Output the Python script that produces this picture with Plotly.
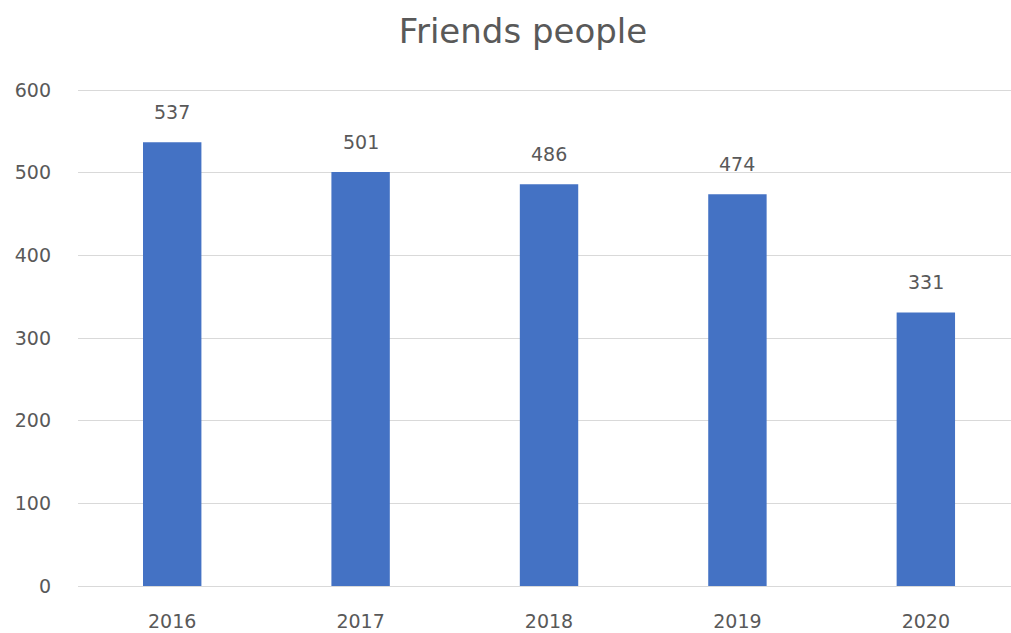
import plotly.graph_objects as go

# Yearly counts
years = ["2016", "2017", "2018", "2019", "2020"]
counts = [537, 501, 486, 474, 331]
y_ticks = [0, 100, 200, 300, 400, 500, 600]

BAR_COLOR = "#4472C4"
TEXT_COLOR = "#595959"
GRID_COLOR = "#d9d9d9"
FONT = "DejaVu Sans"

fig = go.Figure()
fig.add_trace(
    go.Bar(
        x=years,
        y=counts,
        marker=dict(color=BAR_COLOR, line=dict(width=0)),
        width=0.31,
        hoverinfo="x+y",
    )
)

# Value labels above each bar (category axis: position by index)
for i, v in enumerate(counts):
    fig.add_annotation(
        x=i, y=v, xref="x", yref="y",
        text=str(v), showarrow=False,
        yanchor="middle", yshift=30,
        font=dict(family=FONT, size=19, color=TEXT_COLOR),
    )

fig.update_layout(
    width=1011,
    height=633,
    margin=dict(l=78, r=0, t=86, b=47),
    paper_bgcolor="white",
    plot_bgcolor="white",
    showlegend=False,
    bargap=0.69,
    title=dict(
        text="Friends people",
        x=523 / 1011, xref="container", xanchor="center",
        y=1 - 31 / 633, yref="container", yanchor="middle",
        font=dict(family=FONT, size=34, color=TEXT_COLOR),
    ),
    xaxis=dict(
        type="category",
        range=[-0.5, 4.452],
        showgrid=False,
        showline=False,
        zeroline=False,
        ticks="",
        ticklabelstandoff=22,
        tickfont=dict(family=FONT, size=19, color=TEXT_COLOR),
    ),
    yaxis=dict(
        range=[0, 605],
        tickvals=y_ticks,
        showgrid=True,
        gridcolor=GRID_COLOR,
        gridwidth=1,
        zeroline=True,
        zerolinecolor=GRID_COLOR,
        zerolinewidth=1,
        showline=False,
        ticks="",
        ticklabelstandoff=26,
        tickfont=dict(family=FONT, size=19, color=TEXT_COLOR),
    ),
)

fig.write_html("out.html")
